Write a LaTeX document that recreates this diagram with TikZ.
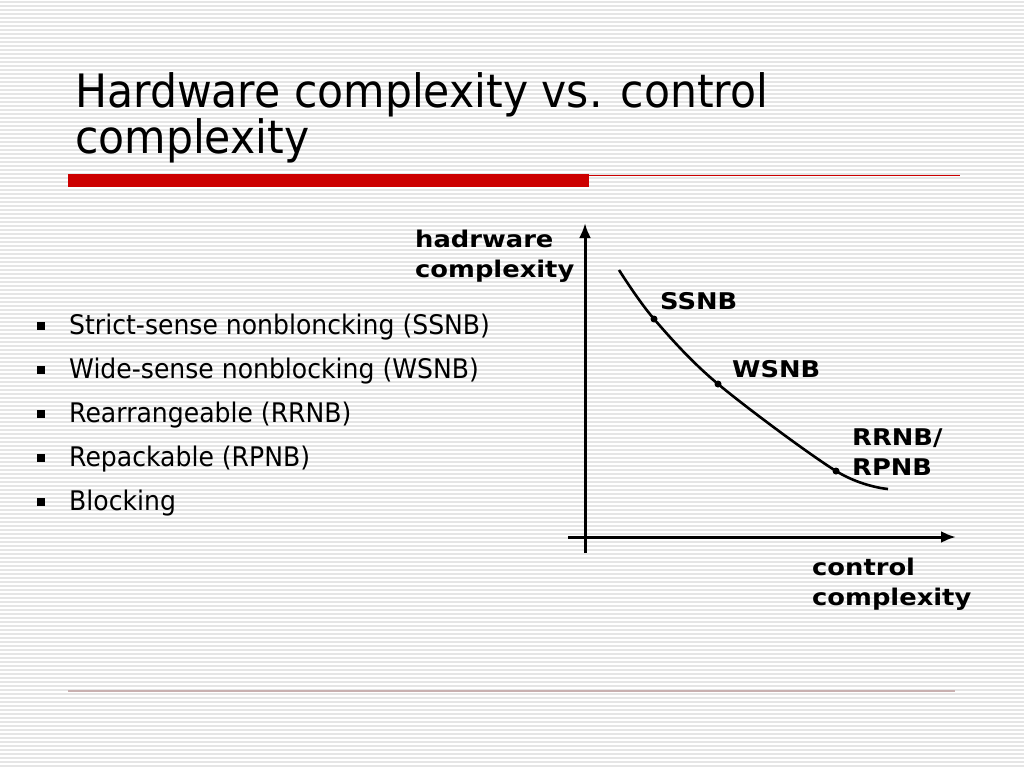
\documentclass[tikz,border=0pt]{standalone}
\usepackage{fontspec}
\setmainfont{DejaVu Sans}
\newfontfamily\titlefont[FakeStretch=0.925]{DejaVu Sans}
\newfontfamily\itemfont[FakeStretch=0.93]{DejaVu Sans}
\newfontfamily\labelfont[FakeStretch=1.12]{DejaVu Sans}
\usetikzlibrary{arrows.meta}

\definecolor{slidered}{RGB}{204,0,0}
\definecolor{stripegray}{RGB}{229,229,229}
\definecolor{footline}{RGB}{200,176,176}

\tikzset{
  bullettext/.style={anchor=base west, inner sep=0, font=\itemfont\fontsize{27}{30}\selectfont},
  bulletbox/.style={fill=black, minimum size=8pt, inner sep=0},
  curvelabel/.style={anchor=base west, inner sep=0, align=left, font=\labelfont\bfseries\fontsize{23}{30}\selectfont},
  curvedot/.style={circle, fill=black, inner sep=0, minimum size=7pt},
  axis/.style={black, line width=3pt, -{Latex[length=15pt,width=12pt]}},
}

\begin{document}
\begin{tikzpicture}[x=1pt,y=-1pt]
\useasboundingbox (0,0) rectangle (1024,768);
\fill[white] (0,0) rectangle (1024,768);
\foreach \y in {2,6,...,766} \draw[stripegray, line width=1.4pt] (0,\y)--(1024,\y);

% title and rules
\node[anchor=base west, inner sep=0, font=\titlefont\fontsize{46}{45}\selectfont] (title1) at (75,107) {Hardware complexity vs. control};
\node[anchor=base west, inner sep=0, font=\titlefont\fontsize{46}{45}\selectfont] (title2) at (75,153) {complexity};
\fill[slidered] (68,174) rectangle (589,187);
\draw[slidered, line width=1pt] (589,175)--(960,175);
\draw[footline, line width=1.2pt] (68,691)--(955,691);

% list
\foreach \txt [count=\i] in {Strict-sense nonbloncking (SSNB), Wide-sense nonblocking (WSNB), Rearrangeable (RRNB), Repackable (RPNB), Blocking} {
  \node[bulletbox] (sq\i) at (41,{326+44*(\i-1)}) {};
  \node[bullettext] (item\i) at (69,{334+44*(\i-1)}) {\txt};
}

% axes
\coordinate (yb) at (585,553);
\coordinate (yt) at (585,223);
\coordinate (xl) at (568,537);
\coordinate (xr) at (956,537);
\draw[axis] (yb)--(yt);
\draw[axis] (xl)--(xr);
\node[curvelabel] (ylabel) at (415,277) {hadrware\\complexity};
\node[curvelabel] (xlabel) at (812,605) {control\\complexity};

% curve
\coordinate (c0) at (619,270);
\coordinate (ssnb) at (654,319);
\coordinate (wsnb) at (718,384);
\coordinate (rrnb) at (836,471);
\coordinate (c1) at (888,489);
\draw[black, line width=2.6pt] plot[smooth, tension=0.55] coordinates {(c0) (ssnb) (wsnb) (rrnb) (c1)};
\node[curvedot] (ssnbdot) at (ssnb) {};
\node[curvedot] (wsnbdot) at (wsnb) {};
\node[curvedot] (rrnbdot) at (rrnb) {};
\node[curvelabel] (ssnblabel) at (660,309) {SSNB};
\node[curvelabel] (wsnblabel) at (732,377) {WSNB};
\node[curvelabel] (rrnblabel) at (852,475) {RRNB/\\RPNB};
\end{tikzpicture}
\end{document}
